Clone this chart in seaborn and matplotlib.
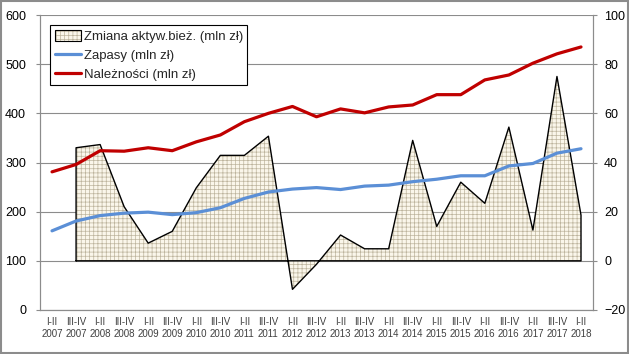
import numpy as np
import pandas as pd
import matplotlib
matplotlib.use("Agg")
import matplotlib.pyplot as plt
import seaborn as sns
from matplotlib.patches import Patch, Rectangle
from matplotlib.lines import Line2D

# dane
okresy = ["I-II", "III-IV"] * 11 + ["I-II"]
lata = [2007, 2007, 2008, 2008, 2009, 2009, 2010, 2010, 2011, 2011, 2012, 2012,
        2013, 2013, 2014, 2014, 2015, 2015, 2016, 2016, 2017, 2017, 2018]
zapasy = [161, 181, 192, 197, 199, 194, 198, 208, 227, 240, 246, 249,
          245, 252, 254, 261, 266, 273, 273, 293, 298, 319, 328]
naleznosci = [281, 296, 324, 323, 330, 324, 342, 356, 383, 400, 414, 393,
              409, 401, 413, 417, 438, 438, 468, 478, 502, 521, 535]
zmiana = [np.nan, 46, 47.3, 22, 7.2, 12, 29.7, 42.9, 42.9, 50.7, -11.6, -1.4,
          10.5, 4.9, 4.9, 49, 14, 32, 23.4, 54.4, 12.5, 75, 18.6]

df = pd.DataFrame({"okres": okresy, "rok": lata, "zapasy": zapasy,
                   "naleznosci": naleznosci, "zmiana": zmiana})
df["x"] = np.arange(len(df))
df["etykieta"] = df["okres"] + "\n" + df["rok"].astype(str)

sns.set_style("white")
plt.rcParams["font.family"] = ["Liberation Sans", "DejaVu Sans"]
plt.rcParams["hatch.linewidth"] = 0.5

kolor_osi = "#8c8c8c"
tlo_kratki = "#faf6ea"
kolor_kratki = "#bdb49d"
czerwony = "#c00000"
niebieski = "#5b8fd6"

fig = plt.figure(figsize=(6.29, 3.54), dpi=100)
ax = fig.add_axes([0.0636, 0.1243, 0.8792, 0.8333])
ax2 = ax.twinx()

# prawa oś: zmiana aktywów (pole z kratką), pod liniami
ax.set_zorder(ax2.get_zorder() + 1)
ax.patch.set_visible(False)

ax2.fill_between(df["x"], df["zmiana"], 0, facecolor=tlo_kratki,
                 edgecolor=kolor_kratki, linewidth=0, hatch="++++", zorder=2)
ok = df.dropna(subset=["zmiana"])
xs = [ok["x"].iloc[0]] + list(ok["x"]) + [ok["x"].iloc[-1], ok["x"].iloc[0]]
ys = [0] + list(ok["zmiana"]) + [0, 0]
ax2.plot(xs, ys, color="black", lw=1.0, zorder=3)

ax2.set_ylim(-20, 100)
ax2.set_yticks(range(-20, 101, 20))
ax2.yaxis.grid(True, color=kolor_osi, lw=0.8)
ax2.set_axisbelow(True)

# lewa oś: zapasy i należności
sns.lineplot(data=df, x="x", y="zapasy", ax=ax, color=niebieski, lw=2.3, sort=False)
sns.lineplot(data=df, x="x", y="naleznosci", ax=ax, color=czerwony, lw=2.3, sort=False)
ax.set_ylim(0, 600)
ax.set_yticks(range(0, 601, 100))
ax.set_xlim(-0.5, len(df) - 0.5)
ax.set_xlabel("")
ax.set_ylabel("")
ax2.set_ylabel("")

ax.set_xticks(df["x"])
ax.set_xticklabels(df["etykieta"], fontsize=7, linespacing=1.3)
ax.set_xticks(np.arange(-0.5, len(df), 1), minor=True)
ax.tick_params(axis="x", which="major", length=0, pad=5, colors="#404040")
ax.tick_params(axis="x", which="minor", length=3, color=kolor_osi, direction="out")
ax.tick_params(axis="y", length=3, width=0.8, color=kolor_osi, labelsize=9, pad=7,
               direction="out", labelcolor="black")
ax2.tick_params(axis="y", length=3, width=0.8, color=kolor_osi, labelsize=9, pad=5,
                direction="out", labelcolor="black")

for a in (ax, ax2):
    for s in a.spines.values():
        s.set_color(kolor_osi)
        s.set_linewidth(0.8)
    a.spines["top"].set_visible(False)

# legenda
uchwyt_pole = (Patch(facecolor=tlo_kratki, edgecolor=kolor_kratki, linewidth=0, hatch="++++"),
               Patch(facecolor="none", edgecolor="black", linewidth=0.8))
uchwyty = [uchwyt_pole,
           Line2D([], [], color=niebieski, lw=2.3),
           Line2D([], [], color=czerwony, lw=2.3)]
etykiety = ["Zmiana aktyw.bież. (mln zł)", "Zapasy (mln zł)", "Należności (mln zł)"]
leg = ax.legend(uchwyty, etykiety, loc="upper left", bbox_to_anchor=(0.018, 0.966),
                borderaxespad=0, fontsize=9.5, frameon=True, fancybox=False,
                edgecolor="black", framealpha=1, handlelength=2.0, handleheight=0.9,
                labelspacing=0.45, handletextpad=0.2, borderpad=0.35)
leg.get_frame().set_linewidth(0.8)

fig.add_artist(Rectangle((0.0015, 0.002), 0.997, 0.996, transform=fig.transFigure,
                         fill=False, edgecolor=kolor_osi, lw=1.5))

fig.savefig("out.png", dpi=100)
